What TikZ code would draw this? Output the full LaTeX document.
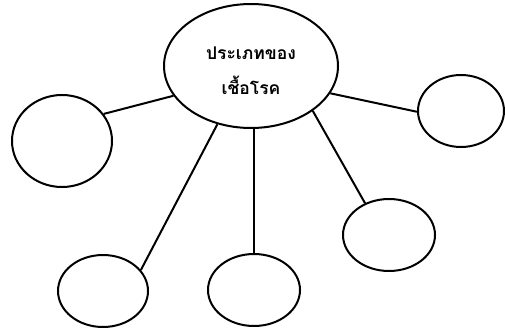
\documentclass[tikz,border=0pt]{standalone}
\usepackage{fontspec}
\newfontfamily\thaifont[Script=Thai]{Loma}
\usetikzlibrary{shapes.geometric}
\begin{document}
\begin{tikzpicture}[x=1pt,y=-1pt,
  bub/.style={draw, ellipse, line width=2pt, inner sep=0pt},
  link/.style={line width=2pt},
  lbl/.style={align=center, inner sep=0pt, font=\thaifont\bfseries\fontsize{17.5}{35}\selectfont}]
\useasboundingbox (0,0) rectangle (505,329);
\node[bub, minimum width=174pt, minimum height=124pt] (c) at (251,66) {};
\node[lbl] (ct) at (251,71) {ประเภทของ\\เชื้อโรค};
\node[bub, minimum width=100pt, minimum height=92pt] (l) at (62,141) {};
\node[bub, minimum width=86pt, minimum height=72pt] (r) at (461,111) {};
\node[bub, minimum width=90pt, minimum height=72pt] (bl) at (103,291) {};
\node[bub, minimum width=92pt, minimum height=72pt] (bm) at (254,290) {};
\node[bub, minimum width=92pt, minimum height=72pt] (br) at (389,235) {};
\draw[link] (c.201) -- (l.33);
\draw[link] (c.-19) -- (r.181);
\draw[link] (c.240) -- (bl.29);
\draw[link] (bm.north |- c.south) -- (bm.north);
\draw[link] (c.-36) -- (br.127);
\end{tikzpicture}
\end{document}
